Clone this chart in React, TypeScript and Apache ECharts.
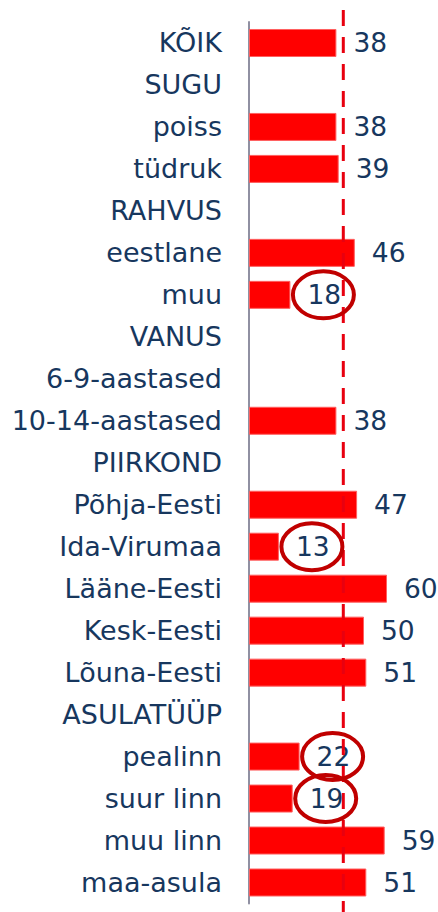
import React, { useEffect, useRef } from 'react';
import * as echarts from 'echarts';

const categories = [
  'KÕIK', 'SUGU', 'poiss', 'tüdruk', 'RAHVUS', 'eestlane', 'muu', 'VANUS',
  '6-9-aastased', '10-14-aastased', 'PIIRKOND', 'Põhja-Eesti', 'Ida-Virumaa',
  'Lääne-Eesti', 'Kesk-Eesti', 'Lõuna-Eesti', 'ASULATÜÜP', 'pealinn',
  'suur linn', 'muu linn', 'maa-asula',
];
const values: (number | null)[] = [
  38, null, 38, 39, null, 46, 18, null, null, 38, null, 47, 13, 60, 50, 51, null, 22, 19, 59, 51,
];
const referenceValue = 41;
const circledCategories = ['muu', 'Ida-Virumaa', 'pealinn', 'suur linn'];
const axisMax = 80;

const TEXT = '#17375E';
const FONT = 'DejaVu Sans';

export default function App() {
  const ref = useRef<HTMLDivElement>(null);
  useEffect(() => {
    if (!ref.current) return;
    const chart = echarts.init(ref.current, undefined, { renderer: 'svg' });
    chart.setOption({
      animation: false,
      grid: [
        { left: 249, right: 5, top: 22, bottom: 8.5 },
        { left: 249, right: 5, top: 10, bottom: 0 },
      ],
      xAxis: [
        { type: 'value', gridIndex: 0, min: 0, max: axisMax, show: false },
        { type: 'value', gridIndex: 1, min: 0, max: axisMax, show: false },
      ],
      yAxis: [
        {
          type: 'category',
          gridIndex: 0,
          data: categories,
          inverse: true,
          axisTick: { show: false },
          axisLine: { show: true, lineStyle: { color: '#9090A2', width: 2 } },
          axisLabel: { color: TEXT, fontSize: 27, fontFamily: FONT, margin: 27 },
          splitLine: { show: false },
        },
        { type: 'value', gridIndex: 1, min: 0, max: 1, inverse: true, show: false },
      ],
      series: [
        {
          type: 'bar',
          xAxisIndex: 0,
          yAxisIndex: 0,
          data: values.map((v) => (v == null ? '-' : v)),
          barWidth: 28,
          itemStyle: { color: '#FF0000', borderColor: '#FF6060', borderWidth: 1 },
          label: {
            show: true,
            position: 'right',
            distance: 17,
            color: TEXT,
            fontSize: 26.5,
            fontFamily: FONT,
          },
          z: 2,
        },
        {
          type: 'line',
          xAxisIndex: 1,
          yAxisIndex: 1,
          data: [[referenceValue, 0], [referenceValue, 1]],
          symbol: 'none',
          silent: true,
          lineStyle: { color: '#E8000F', width: 3, type: [16, 11] },
          z: 3,
        },
      ],
    });

    const ellipses = circledCategories.map((name) => {
      const i = categories.indexOf(name);
      const v = values[i] as number;
      const p = chart.convertToPixel({ gridIndex: 0 }, [v, i]) as number[];
      return {
        type: 'ellipse',
        shape: { cx: p[0] + 33, cy: p[1], rx: 30.5, ry: 23.5 },
        style: { fill: 'none', stroke: '#C00000', lineWidth: 4 },
        z: 100,
        silent: true,
      };
    });
    chart.setOption({ graphic: ellipses });

    return () => chart.dispose();
  }, []);
  return (
    <div
      ref={ref}
      style={{ position: 'absolute', left: 0, top: 0, width: 438, height: 912, background: '#fff' }}
    />
  );
}
